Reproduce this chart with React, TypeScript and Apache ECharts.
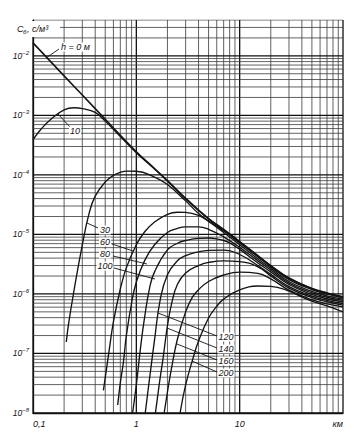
import React, { useEffect, useRef } from 'react';
import * as echarts from 'echarts';

// Distance, km, and dilution factor, s/m3
const xH0 = [0.1, 0.2, 0.3, 0.5, 1, 1.5, 2, 3, 4, 5, 7, 10, 15, 20, 30, 50, 70, 100];
const cH0 = [1.65e-2, 4.6e-3, 2.2e-3, 8.6e-4, 2.44e-4, 1.28e-4, 8.0e-5, 4.05e-5, 2.55e-5, 1.85e-5, 1.21e-5, 7.6e-6, 4.4e-6, 3.0e-6, 1.85e-6, 1.24e-6, 1.04e-6, 9.0e-7];

const xH10 = [0.1, 0.12, 0.15, 0.2, 0.25, 0.3, 0.4, 0.5, 0.7, 1, 1.5, 2, 3, 5, 10, 20, 30, 50, 100];
const cH10 = [3.9e-4, 5.9e-4, 8.7e-4, 1.24e-3, 1.34e-3, 1.3e-3, 1.12e-3, 8.0e-4, 4.4e-4, 2.36e-4, 1.25e-4, 7.85e-5, 3.95e-5, 1.82e-5, 7.5e-6, 2.97e-6, 1.83e-6, 1.23e-6, 8.9e-7];

const xH30 = [0.21, 0.22, 0.25, 0.3, 0.35, 0.4, 0.5, 0.6, 0.7, 0.8, 1, 1.5, 2, 3, 4, 5, 7, 10, 15, 20, 30, 50, 70, 100];
const cH30 = [1.56e-7, 3.0e-7, 1.17e-6, 6.7e-6, 2.3e-5, 4.4e-5, 7.6e-5, 9.8e-5, 1.1e-4, 1.16e-4, 1.15e-4, 9.2e-5, 6.9e-5, 3.66e-5, 2.25e-5, 1.69e-5, 1.15e-5, 7.2e-6, 4.2e-6, 2.85e-6, 1.74e-6, 1.18e-6, 9.9e-7, 8.6e-7];

const xH60 = [0.48, 0.5, 0.55, 0.6, 0.7, 0.8, 1, 1.2, 1.5, 2, 2.5, 3, 4, 5, 7, 10, 15, 20, 30, 50, 70, 100];
const cH60 = [2.4e-8, 3.9e-8, 1.24e-7, 3.4e-7, 1.21e-6, 2.74e-6, 6.7e-6, 1.1e-5, 1.62e-5, 2.18e-5, 2.36e-5, 2.34e-5, 2.08e-5, 1.65e-5, 1.08e-5, 6.7e-6, 3.87e-6, 2.69e-6, 1.62e-6, 1.1e-6, 9.3e-7, 8.2e-7];

const xH80 = [0.66, 0.7, 0.75, 0.8, 0.9, 1, 1.2, 1.5, 2, 2.5, 3, 4, 5, 7, 10, 15, 20, 30, 50, 70, 100];
const cH80 = [1.36e-8, 3.2e-8, 7.2e-8, 1.97e-7, 7.1e-7, 1.59e-6, 3.6e-6, 6.7e-6, 1.08e-5, 1.26e-5, 1.34e-5, 1.34e-5, 1.22e-5, 9.1e-6, 6.05e-6, 3.6e-6, 2.53e-6, 1.52e-6, 1.04e-6, 8.8e-7, 7.8e-7];

const xH100 = [0.92, 1, 1.1, 1.2, 1.35, 1.5, 2, 2.5, 3, 4, 5, 6, 7, 8, 10, 15, 20, 30, 50, 70, 100];
const cH100 = [1.0e-8, 2.96e-8, 1.28e-7, 3.95e-7, 1.31e-6, 2.35e-6, 5.5e-6, 7.1e-6, 7.9e-6, 8.6e-6, 8.7e-6, 8.4e-6, 7.9e-6, 7.2e-6, 5.6e-6, 3.32e-6, 2.35e-6, 1.44e-6, 9.8e-7, 8.3e-7, 7.35e-7];

const xH120 = [1.22, 1.3, 1.4, 1.5, 1.7, 2, 2.5, 3, 4, 5, 7, 10, 15, 20, 30, 50, 70, 100];
const cH120 = [1.0e-8, 2.44e-8, 6.7e-8, 1.69e-7, 7.9e-7, 2.1e-6, 3.6e-6, 4.4e-6, 5.1e-6, 5.4e-6, 5.45e-6, 4.6e-6, 3.0e-6, 2.13e-6, 1.33e-6, 9.2e-7, 7.8e-7, 6.9e-7];

const xH140 = [1.53, 1.6, 1.7, 1.8, 2, 2.2, 2.5, 3, 4, 5, 7, 10, 15, 20, 30, 50, 70, 100];
const cH140 = [1.0e-8, 1.79e-8, 3.9e-8, 7.5e-8, 2.9e-7, 7.0e-7, 1.45e-6, 2.25e-6, 3.0e-6, 3.38e-6, 3.6e-6, 3.5e-6, 2.85e-6, 2.01e-6, 1.25e-6, 8.7e-7, 7.4e-7, 6.5e-7];

const xH160 = [1.86, 2, 2.2, 2.5, 3, 3.5, 4, 5, 7, 10, 15, 20, 30, 50, 70, 100];
const cH160 = [1.0e-8, 2.25e-8, 5.9e-8, 1.75e-7, 5.0e-7, 8.9e-7, 1.18e-6, 1.62e-6, 2.08e-6, 2.33e-6, 2.21e-6, 1.79e-6, 1.16e-6, 8.0e-7, 6.8e-7, 6.05e-7];

const xH200 = [2.65, 3, 3.5, 4, 5, 6, 7, 10, 15, 20, 30, 40, 50, 70, 100];
const cH200 = [1.0e-8, 2.96e-8, 7.8e-8, 1.62e-7, 3.95e-7, 6.2e-7, 8.2e-7, 1.17e-6, 1.36e-6, 1.34e-6, 1.12e-6, 8.9e-7, 7.6e-7, 6.3e-7, 5.0e-7];

const heights = ['0', '10', '30', '60', '80', '100', '120', '140', '160', '200'];
const xTickLabels: Record<string, string> = { '-1': '0,1', '0': '1', '1': '10', '2': 'км' };

const curveXs = [xH0, xH10, xH30, xH60, xH80, xH100, xH120, xH140, xH160, xH200];
const curveCs = [cH0, cH10, cH30, cH60, cH80, cH100, cH120, cH140, cH160, cH200];

const X_MIN = 0.1;
const X_MAX = 100;
const Y_MIN = 1e-8;
const Y_MAX = 0.04;

const INK = '#141414';
const LABEL_FONT = 'italic 9px "Liberation Sans", Arial, sans-serif';

function gridValues(minExp: number, maxExp: number, maxVal: number) {
  const out: { v: number; major: boolean }[] = [];
  for (let e = minExp; e <= maxExp; e++) {
    for (let k = 1; k <= 9; k++) {
      const v = k * Math.pow(10, e);
      if (v <= maxVal * 1.0001) out.push({ v, major: k === 1 });
    }
  }
  return out;
}

function textEl(text: string, x: number, y: number, align = 'center', font = LABEL_FONT, bg = true) {
  return {
    type: 'text',
    x,
    y,
    z: 100,
    style: {
      text,
      font,
      fill: INK,
      align,
      textAlign: align,
      verticalAlign: 'middle',
      textVerticalAlign: 'middle',
      backgroundColor: bg ? '#fff' : undefined,
      padding: bg ? [0, 1, 0, 1] : 0,
    },
  };
}

function leader(x1: number, y1: number, x2: number, y2: number) {
  return {
    type: 'line',
    z: 99,
    shape: { x1, y1, x2, y2 },
    style: { stroke: INK, lineWidth: 0.9 },
  };
}

export default function App() {
  const ref = useRef<HTMLDivElement>(null);

  useEffect(() => {
    document.body.style.margin = '0';
    const chart = echarts.init(ref.current!, null, { renderer: 'svg' });

    const gx = gridValues(-1, 2, X_MAX);
    const gy = gridValues(-8, -2, Y_MAX);

    const gridStyle = (major: boolean) => ({
      color: major ? '#111' : '#3a3a3a',
      width: major ? 1.3 : 0.8,
      type: 'solid',
    });

    const gridSeries: any[] = [
      ...gx.map((g) => ({
        type: 'line',
        data: [[g.v, Y_MIN], [g.v, Y_MAX]],
        symbol: 'none',
        showSymbol: false,
        silent: true,
        z: 1,
        lineStyle: gridStyle(g.major),
      })),
      ...gy.map((g) => ({
        type: 'line',
        data: [[X_MIN, g.v], [X_MAX, g.v]],
        symbol: 'none',
        showSymbol: false,
        silent: true,
        z: 1,
        lineStyle: gridStyle(g.major),
      })),
    ];

    const curveSeries = heights.map((h, i) => ({
      name: 'h=' + h,
      type: 'line',
      data: curveXs[i].map((x, j) => [x, curveCs[i][j]]),
      showSymbol: false,
      symbol: 'none',
      smooth: 0.45,
      clip: true,
      z: 5,
      lineStyle: { color: INK, width: i === 0 ? 1.6 : 1.35 },
    }));

    const option: any = {
      animation: false,
      backgroundColor: '#fff',
      grid: { left: 33, right: 11, top: 20, bottom: 21, containLabel: false },
      xAxis: {
        type: 'log',
        logBase: 10,
        min: X_MIN,
        max: X_MAX,
        axisLine: { show: true, lineStyle: { color: '#111', width: 1.3 } },
        axisTick: { show: false },
        splitLine: { show: false },
        axisLabel: {
          margin: 6,
          fontSize: 9,
          fontStyle: 'italic',
          fontFamily: '"Liberation Sans", Arial, sans-serif',
          color: INK,
          alignMinLabel: 'left',
          alignMaxLabel: 'right',
          formatter: (v: number) => {
            const e = Math.log10(v);
            if (Math.abs(e - Math.round(e)) > 0.01) return '';
            return xTickLabels[String(Math.round(e))] ?? '';
          },
        },
      },
      yAxis: {
        type: 'log',
        logBase: 10,
        min: Y_MIN,
        max: Y_MAX,
        axisLine: { show: true, lineStyle: { color: '#111', width: 1.3 } },
        axisTick: { show: false },
        splitLine: { show: false },
        axisLabel: {
          margin: 4,
          color: INK,
          formatter: (v: number) => {
            const e = Math.log10(v);
            if (Math.abs(e - Math.round(e)) > 0.01) return '';
            return '{b|10}{e|−' + Math.abs(Math.round(e)) + '}';
          },
          rich: {
            b: {
              fontSize: 8.5,
              fontStyle: 'italic',
              fontFamily: '"Liberation Sans", Arial, sans-serif',
              color: INK,
              lineHeight: 12,
            },
            e: {
              fontSize: 6,
              fontStyle: 'italic',
              fontFamily: '"Liberation Sans", Arial, sans-serif',
              color: INK,
              verticalAlign: 'top',
              lineHeight: 7,
            },
          },
        },
      },
      series: [...gridSeries, ...curveSeries],
      graphic: [
        // axis title
        { type: 'rect', z: 98, shape: { x: 14, y: 21, width: 46, height: 16 }, style: { fill: '#fff' } },
        textEl('C', 17, 29, 'left', 'italic 9px "Liberation Sans", Arial, sans-serif', false),
        textEl('б', 23, 32, 'left', 'italic 6px "Liberation Sans", Arial, sans-serif', false),
        textEl(', с/м³', 27, 29, 'left', 'italic 9px "Liberation Sans", Arial, sans-serif', false),
        // h = 0
        leader(46, 58, 59, 49),
        textEl('h = 0 м', 60, 47, 'left'),
        // 10
        leader(58, 114, 70, 127),
        textEl('10', 75, 131),
        // left-hand labels
        leader(87, 223, 98, 228),
        textEl('30', 105, 230),
        leader(112, 244, 133, 251),
        textEl('60', 105, 242),
        leader(113, 256, 147, 264),
        textEl('80', 105, 254),
        leader(114, 268, 155, 279),
        textEl('100', 105, 266),
        // right-hand labels
        leader(158, 313, 217, 336),
        textEl('120', 226, 337),
        leader(167, 328, 217, 348),
        textEl('140', 226, 349),
        leader(177, 344, 217, 360),
        textEl('160', 226, 361),
        leader(192, 361, 217, 372),
        textEl('200', 226, 373),
      ],
    };

    chart.setOption(option);
    return () => chart.dispose();
  }, []);

  return (
    <div
      ref={ref}
      style={{ position: 'absolute', left: 0, top: 0, width: 354, height: 434, background: '#fff' }}
    />
  );
}
